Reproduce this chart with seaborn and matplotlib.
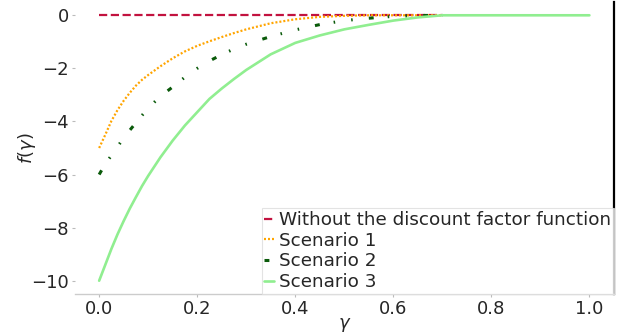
import matplotlib
matplotlib.use("Agg")
import matplotlib.pyplot as plt
import seaborn as sns

# gamma grid shared by the discounted scenarios (denser where the curves bend most)
gamma = [0.0, 0.0125, 0.025, 0.0375, 0.05, 0.0625, 0.075, 0.0875, 0.1,
         0.125, 0.15, 0.175, 0.2, 0.225, 0.25, 0.275, 0.3,
         0.35, 0.4, 0.45, 0.5, 0.55, 0.6, 0.65, 0.7]

no_discount = [0.0] * len(gamma)
scenario_1 = [-5.0, -4.5, -3.98, -3.57, -3.22, -2.92, -2.65, -2.43, -2.25,
              -1.92, -1.62, -1.36, -1.15, -0.98, -0.82, -0.67, -0.53,
              -0.3, -0.15, -0.06, -0.02, 0.0, 0.0, 0.0, 0.0]
scenario_2 = [-6.0, -5.6, -5.28, -4.95, -4.62, -4.33, -4.05, -3.77, -3.5,
              -3.05, -2.7, -2.33, -2.0, -1.72, -1.48, -1.27, -1.09,
              -0.8, -0.55, -0.35, -0.2, -0.11, -0.04, -0.01, 0.0]
scenario_3_gamma = gamma + [0.75, 0.8, 0.85, 0.9, 0.95, 1.0]
scenario_3 = [-10.0, -9.4, -8.8, -8.25, -7.75, -7.28, -6.85, -6.43, -6.05,
              -5.35, -4.72, -4.15, -3.65, -3.15, -2.76, -2.4, -2.06,
              -1.47, -1.04, -0.76, -0.53, -0.36, -0.2, -0.08, 0.0,
              0.0, 0.0, 0.0, 0.0, 0.0, 0.0]

labels = ["Without the discount factor function", "Scenario 1", "Scenario 2", "Scenario 3"]
y_ticks = [0, -2, -4, -6, -8, -10]
x_ticks = [0.0, 0.2, 0.4, 0.6, 0.8, 1.0]

sns.set_theme(style="white")
plt.rcParams["font.family"] = ["DejaVu Sans"]

fig = plt.figure(figsize=(6.22, 3.36), dpi=100)
ax = fig.add_axes([0.12, 0.125, 0.867, 0.869])

sns.lineplot(x=gamma, y=no_discount, ax=ax, color="#c2123f", linewidth=1.6,
             label=labels[0]).lines[-1].set_dashes((3.7, 1.6))
sns.lineplot(x=gamma, y=scenario_1, ax=ax, color="orange", linewidth=1.6,
             label=labels[1]).lines[-1].set_dashes((0.9, 0.9))
sns.lineplot(x=gamma, y=scenario_2, ax=ax, color="#0a5a0a", linewidth=2.2,
             label=labels[2]).lines[-1].set_dashes((1.6, 4.6, 0.5, 5.3, 0.5, 5.3))
sns.lineplot(x=scenario_3_gamma, y=scenario_3, ax=ax, color="lightgreen",
             linewidth=1.9, label=labels[3])

ax.set_xticks(x_ticks)
ax.set_yticks(y_ticks)
ax.set_xticklabels([f"{t:.1f}" for t in x_ticks])
ax.set_yticklabels([f"\u2212{abs(t)}" if t < 0 else str(t) for t in y_ticks])
ax.tick_params(axis="both", labelsize=13, length=2, width=0.8, color="#bbbbbb",
               pad=2, direction="out", bottom=True, left=True)
ax.set_xlabel(r"$\gamma$", fontsize=13, labelpad=-1)
ax.set_ylabel(r"$f(\gamma)$", fontsize=13, labelpad=-5)

for side in ("top", "left"):
    ax.spines[side].set_visible(False)
ax.spines["bottom"].set_color("#cccccc")
ax.spines["bottom"].set_linewidth(1.0)
ax.spines["right"].set_color("black")
ax.spines["right"].set_linewidth(1.6)

leg = ax.legend(loc="lower right", fontsize=13.2, handlelength=0.5,
                handletextpad=0.3, borderpad=0.15, labelspacing=0.15,
                borderaxespad=0.0, frameon=True, fancybox=False)
leg.get_frame().set_edgecolor("#dddddd")
leg.get_frame().set_linewidth(0.8)

fig.savefig("out.png", dpi=100)
